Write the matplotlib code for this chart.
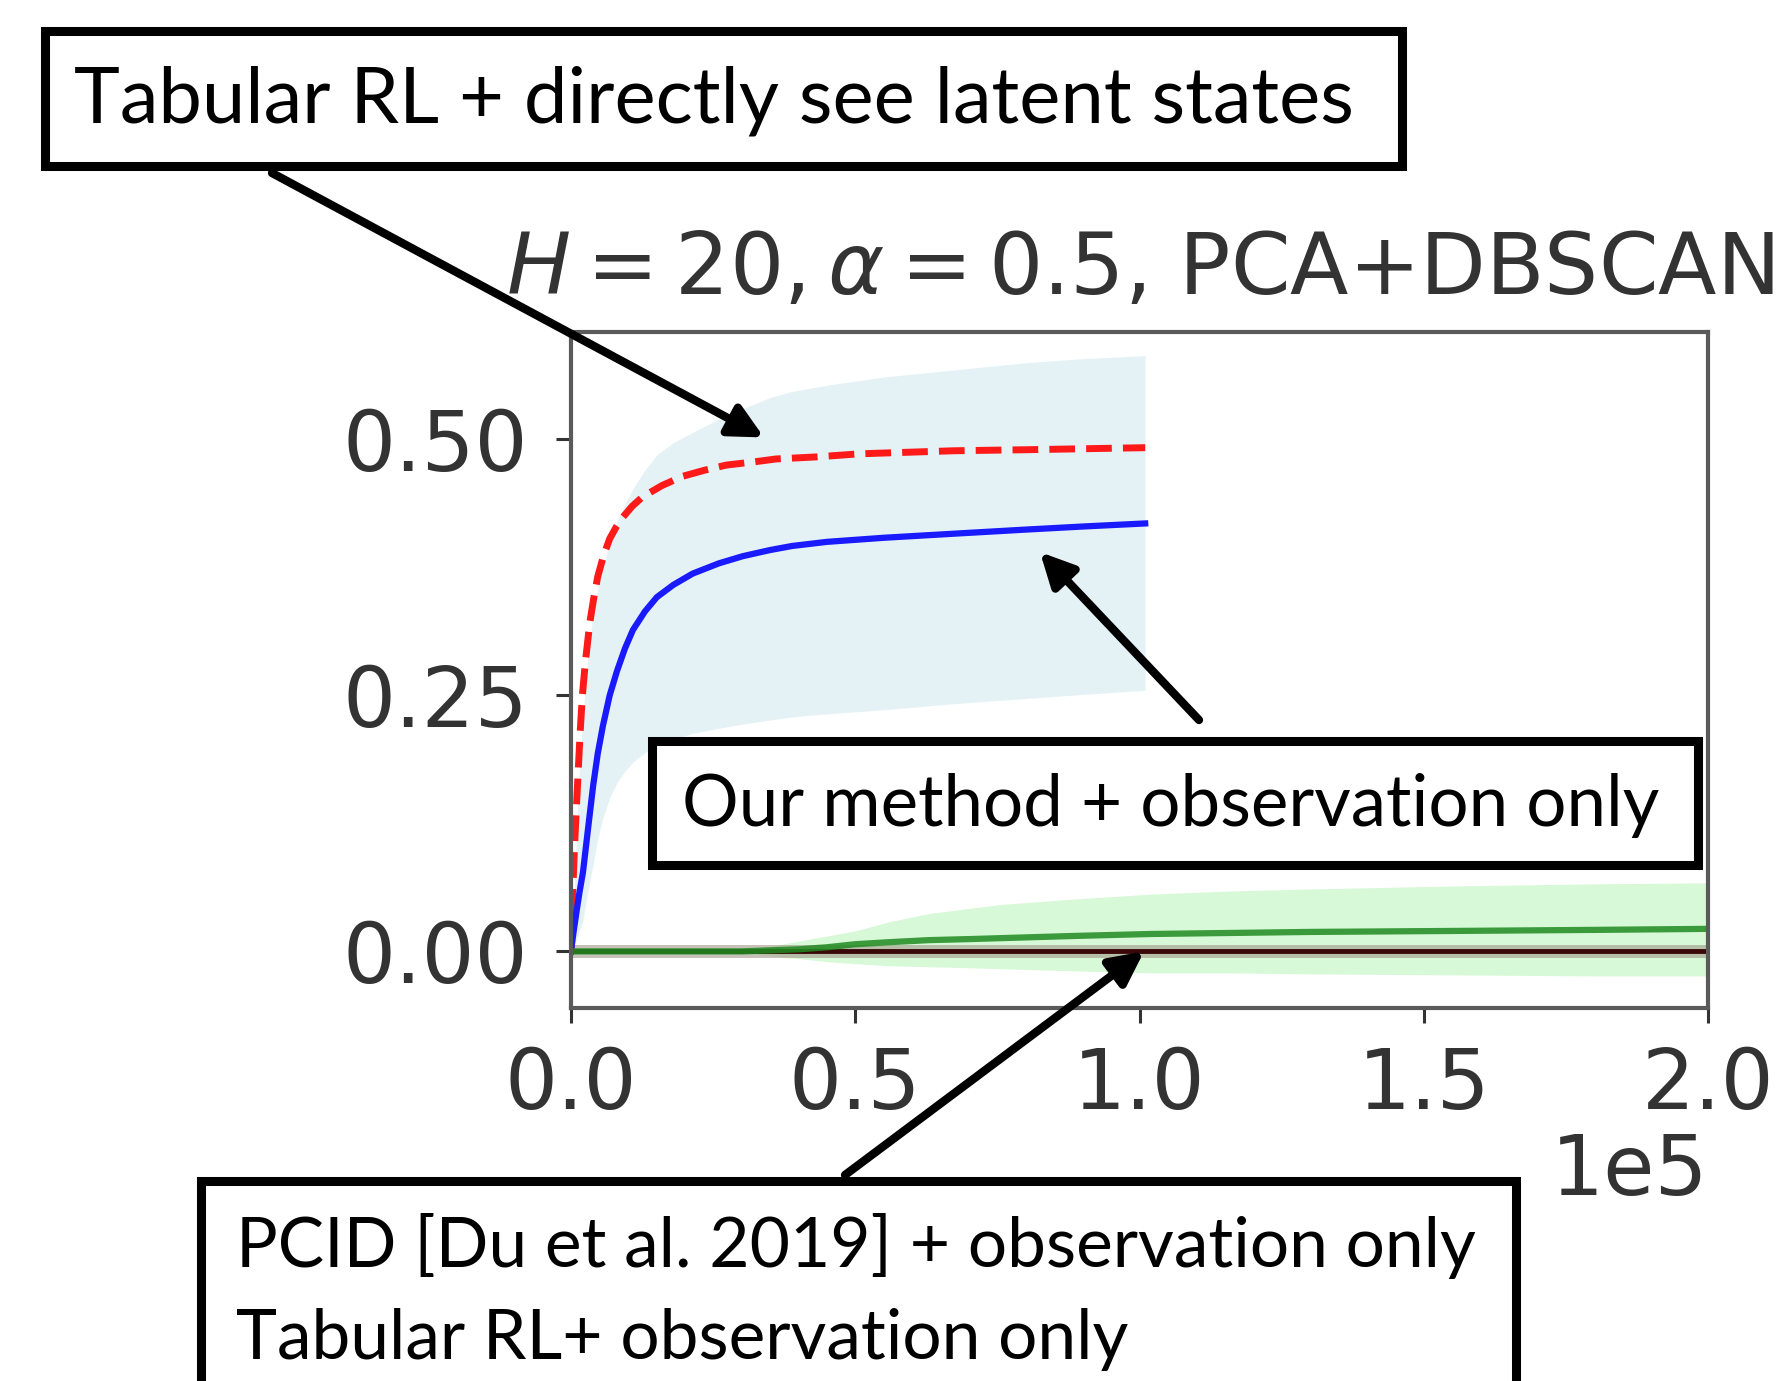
import matplotlib
matplotlib.use("Agg")
import matplotlib.pyplot as plt
from matplotlib.patches import Rectangle

# ---- data (steps, mean, band) ----
red_steps = [0, 200, 600, 1000, 1600, 2000, 2500, 3300, 4000, 4700, 5700, 6800, 8000,
             9100, 10800, 12600, 16000, 19600, 23500, 27300, 32000, 36100, 43200,
             50700, 67400, 80000, 101000]
red_mean = [0.0, 0.043, 0.10, 0.146, 0.213, 0.25, 0.281, 0.321, 0.345, 0.366, 0.386,
            0.403, 0.415, 0.424, 0.435, 0.444, 0.455, 0.464, 0.470, 0.475, 0.478,
            0.481, 0.483, 0.486, 0.489, 0.490, 0.492]

blue_steps = [0, 400, 1000, 1500, 2100, 3000, 3900, 4700, 5600, 6800, 8100, 9500,
              10900, 13000, 15100, 18000, 21400, 26000, 30200, 35000, 38900, 45000,
              55000, 67400, 80000, 90000, 101000]
blue_mean = [0.0, 0.017, 0.040, 0.058, 0.077, 0.120, 0.162, 0.193, 0.220, 0.250,
             0.274, 0.296, 0.314, 0.332, 0.346, 0.358, 0.369, 0.379, 0.386, 0.392,
             0.396, 0.400, 0.404, 0.408, 0.412, 0.415, 0.418]
blue_upper = [0.0, 0.03, 0.12, 0.18, 0.23, 0.29, 0.33, 0.355, 0.375, 0.40, 0.42, 0.437,
              0.452, 0.47, 0.485, 0.497, 0.507, 0.52, 0.53, 0.541, 0.547, 0.553,
              0.561, 0.568, 0.575, 0.579, 0.582]
blue_lower = [0.0, 0.004, 0.012, 0.02, 0.03, 0.06, 0.085, 0.11, 0.13, 0.15, 0.165,
              0.176, 0.185, 0.194, 0.20, 0.207, 0.213, 0.218, 0.222, 0.226, 0.229,
              0.232, 0.236, 0.242, 0.247, 0.251, 0.255]

green_steps = [0, 20000, 30000, 35000, 40000, 45000, 50000, 56000, 63000, 70000,
               76000, 88000, 102000, 116000, 130000, 156000, 180000, 200000]
green_mean = [0.0, 0.0, 0.0, 0.001, 0.002, 0.004, 0.007, 0.009, 0.011, 0.012,
              0.013, 0.015, 0.017, 0.018, 0.019, 0.020, 0.021, 0.022]
green_upper = [0.0, 0.0, 0.002, 0.005, 0.010, 0.015, 0.020, 0.029, 0.037, 0.042,
               0.046, 0.051, 0.056, 0.059, 0.061, 0.064, 0.066, 0.067]
green_lower = [0.0, 0.0, -0.002, -0.004, -0.007, -0.010, -0.012, -0.014, -0.015, -0.016,
               -0.017, -0.019, -0.021, -0.021, -0.022, -0.023, -0.024, -0.024]

dark_steps = [0, 50000, 100000, 150000, 200000]
dark_mean = [0.0, 0.0, 0.0, 0.0, 0.0]
dark_upper = [0.006, 0.006, 0.006, 0.006, 0.006]
dark_lower = [-0.006, -0.006, -0.006, -0.006, -0.006]

title = r"$H = 20, \alpha = 0.5$, PCA+DBSCAN"
xticks = [0, 50000, 100000, 150000, 200000]
yticks = [0.0, 0.25, 0.5]

label_top = "Tabular RL + directly see latent states"
label_ours = "Our method + observation only"
label_bottom = ["PCID [Du et al. 2019] + observation only", "Tabular RL+ observation only"]

W, H = 1779, 1381
fig = plt.figure(figsize=(W / 100, H / 100), dpi=100)
ax = fig.add_axes([571 / W, 1 - 1008 / H, (1708 - 571) / W, (1008 - 332) / H])

# bands
ax.fill_between(blue_steps, blue_lower, blue_upper, color="lightblue", alpha=0.32, lw=0)
ax.fill_between(green_steps, green_lower, green_upper, color="lightgreen", alpha=0.35, lw=0)
ax.fill_between(dark_steps, dark_lower, dark_upper, color="#9a8f80", alpha=0.55, lw=0)

# lines
ax.plot(red_steps, red_mean, color="#ff1a1a", lw=5, ls="--")
ax.plot(blue_steps, blue_mean, color="#1a1aff", lw=4.5)
ax.plot(dark_steps, dark_mean, color="#3a0808", lw=3.5)
ax.plot(green_steps, green_mean, color="#1f8a1f", lw=4.5, alpha=0.85)

ax.set_xlim(0, 200000)
ax.set_ylim(-0.0553, 0.605)
ax.set_xticks(xticks)
ax.set_yticks(yticks)
ax.ticklabel_format(axis="x", style="sci", scilimits=(0, 0))
ax.yaxis.set_major_formatter(matplotlib.ticker.FormatStrFormatter("%.2f"))
ax.tick_params(labelsize=60, length=11, width=2.2, pad=20, colors="#333333")
ax.tick_params(axis="x", pad=16)
ax.xaxis.get_offset_text().set_fontsize(60)
ax.xaxis.get_offset_text().set_color("#333333")
for s in ax.spines.values():
    s.set_linewidth(3)
    s.set_color("#5a5a5a")
ax.set_title(title, fontsize=61.5, pad=27, color="#333333")

# annotation boxes (figure pixels, y from top)
def box(x0, y0, x1, y1):
    r = Rectangle((x0 / W, 1 - y1 / H), (x1 - x0) / W, (y1 - y0) / H,
                  transform=fig.transFigure, facecolor="white", edgecolor="black",
                  lw=6.5, zorder=10)
    fig.add_artist(r)

box(45, 31, 1402, 166)
box(652, 741, 1698, 865)
box(201, 1181, 1516, 1420)

font = "Lato"
fig.text(74 / W, 1 - 123 / H, label_top, fontsize=56, family=font, zorder=11)
fig.text(682 / W, 1 - 826 / H, label_ours, fontsize=51, family=font, zorder=11)
fig.text(236 / W, 1 - 1267 / H, label_bottom[0], fontsize=50, family=font, zorder=11)
fig.text(236 / W, 1 - 1359 / H, label_bottom[1], fontsize=50, family=font, zorder=11)

# arrows: tail in figure fraction, head at data points
arrow = dict(arrowstyle="-|>", color="black", lw=6, mutation_scale=50,
             shrinkA=0, shrinkB=0)
ax.annotate("", xy=(33950, 0.502), xytext=(272 / W, 1 - 173 / H),
            textcoords="figure fraction", arrowprops=arrow, zorder=12, annotation_clip=False)
ax.annotate("", xy=(82500, 0.39), xytext=(1199 / W, 1 - 720 / H),
            textcoords="figure fraction", arrowprops=arrow, zorder=12, annotation_clip=False)
ax.annotate("", xy=(100800, 0.0), xytext=(845 / W, 1 - 1175 / H),
            textcoords="figure fraction", arrowprops=arrow, zorder=12, annotation_clip=False)

fig.savefig("out.png", dpi=100)
